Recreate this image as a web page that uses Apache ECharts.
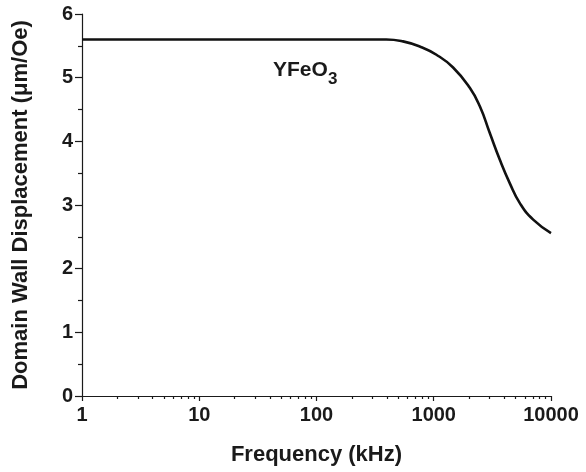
<!DOCTYPE html>
<html>
<head>
<meta charset="utf-8">
<script src="https://cdn.jsdelivr.net/npm/echarts@6/dist/echarts.min.js"></script>
<style>html,body{margin:0;padding:0;background:#fff}#c{width:586px;height:472px}</style>
</head>
<body>
<div id="c"></div>
<script>
// Data
var frequencies = [1, 10, 100, 284, 394, 547, 759, 1054, 1462, 2029, 2472, 3006, 3661, 4456, 5421, 7047, 10000];
var displacement = [5.6, 5.6, 5.6, 5.6, 5.6, 5.57, 5.49, 5.36, 5.16, 4.84, 4.55, 4.13, 3.71, 3.34, 3.03, 2.77, 2.56];
var xMajorTicks = [1, 10, 100, 1000, 10000];
var xMinorTicks = [2,3,4,5,6,7,8,9,20,30,40,50,60,70,80,90,200,300,400,500,600,700,800,900,2000,3000,4000,5000,6000,7000,8000,9000];
var yTicks = [0, 1, 2, 3, 4, 5, 6];

var FONT = '"Liberation Sans", Arial, Helvetica, sans-serif';
var chart = echarts.init(document.getElementById('c'), null, {renderer: 'canvas'});
var seriesData = frequencies.map(function (f, i) { return [f, displacement[i]]; });

chart.setOption({
  animation: false,
  backgroundColor: '#fff',
  grid: {left: 82, right: 35, top: 14, bottom: 76, containLabel: false},
  xAxis: [{
    type: 'log', logBase: 10, min: 1, max: 10000,
    name: 'Frequency (kHz)', nameLocation: 'middle', nameGap: 48,
    nameTextStyle: {fontFamily: FONT, fontWeight: 'bold', fontSize: 22, color: '#1a1a1a'},
    axisLine: {show: true, lineStyle: {color: '#1a1a1a', width: 1.2}},
    axisTick: {show: true, inside: false, length: 5, lineStyle: {color: '#1a1a1a', width: 1.2}},
    axisLabel: {fontFamily: FONT, fontWeight: 'bold', fontSize: 20, color: '#1a1a1a', margin: 9,
      formatter: function (v) { return String(Math.round(v)); }},
    splitLine: {show: false}
  }, {
    type: 'value', min: 0, max: 4, position: 'bottom',
    axisLine: {show: false},
    axisTick: {show: true, length: 3, lineStyle: {color: '#1a1a1a', width: 1.2},
      customValues: xMinorTicks.map(function (v) { return Math.log10(v); })},
    axisLabel: {show: false},
    splitLine: {show: false}
  }],
  yAxis: {
    type: 'value', min: 0, max: 6, interval: 1,
    name: 'Domain Wall Displacement (\u03bcm/Oe)', nameLocation: 'middle', nameGap: 50, nameRotate: 90,
    nameTextStyle: {fontFamily: FONT, fontWeight: 'bold', fontSize: 22, color: '#1a1a1a'},
    axisLine: {show: true, lineStyle: {color: '#1a1a1a', width: 1.2}},
    axisTick: {show: true, length: 7, lineStyle: {color: '#1a1a1a', width: 1.2}},
    minorTick: {show: true, splitNumber: 2, length: 4, lineStyle: {color: '#1a1a1a', width: 1.2}},
    axisLabel: {fontFamily: FONT, fontWeight: 'bold', fontSize: 20, color: '#1a1a1a', margin: 9},
    splitLine: {show: false}
  },
  graphic: [{
    type: 'text', left: 273, top: 60,
    style: {text: 'YFeO', font: 'bold 21px ' + FONT, fill: '#1a1a1a'}
  }, {
    type: 'text', left: 328, top: 71,
    style: {text: '3', font: 'bold 17px ' + FONT, fill: '#1a1a1a'}
  }],
  series: [{
    type: 'line', xAxisIndex: 0, data: seriesData, smooth: 0.5,
    showSymbol: false, symbol: 'none',
    lineStyle: {color: '#111', width: 2.6}
  }]
});
</script>
</body>
</html>
